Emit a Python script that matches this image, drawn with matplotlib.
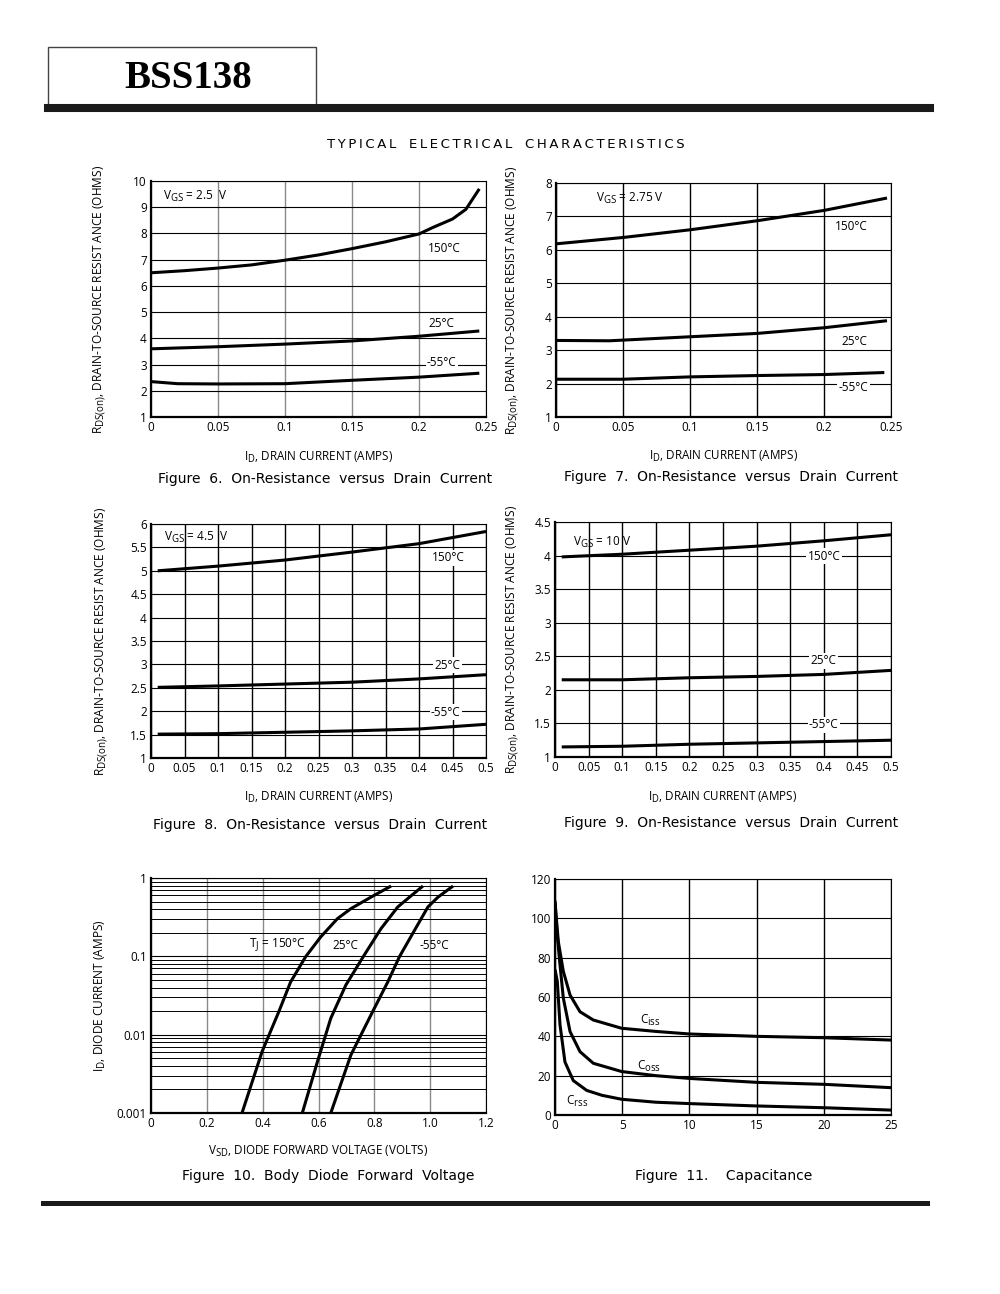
import matplotlib
matplotlib.use("Agg")
import matplotlib.pyplot as plt
import matplotlib._mathtext as mtext
from matplotlib.patches import Rectangle
from matplotlib.lines import Line2D

plt.rcParams['font.family'] = ['Open Sans', 'DejaVu Sans']
plt.rcParams['mathtext.fontset'] = 'custom'
plt.rcParams['mathtext.rm'] = 'Open Sans'
# datasheet subscripts are larger than matplotlib's default
mtext.SHRINK_FACTOR = 0.82

# ---- data ----
# Figure 6, VGS = 2.5 V
f6_x150 = [0, 0.025, 0.05, 0.075, 0.1, 0.125, 0.15, 0.175, 0.2, 0.21, 0.225, 0.235, 0.245]
f6_r150 = [6.5, 6.58, 6.68, 6.8, 6.98, 7.18, 7.42, 7.68, 7.98, 8.22, 8.55, 8.92, 9.7]
f6_x25 = [0, 0.05, 0.1, 0.15, 0.2, 0.245]
f6_r25 = [3.6, 3.68, 3.78, 3.9, 4.08, 4.28]
f6_xm55 = [0, 0.02, 0.05, 0.1, 0.15, 0.2, 0.245]
f6_rm55 = [2.35, 2.27, 2.26, 2.27, 2.4, 2.52, 2.67]

# Figure 7, VGS = 2.75 V
f7_x150 = [0, 0.05, 0.1, 0.15, 0.2, 0.247]
f7_r150 = [6.18, 6.37, 6.6, 6.87, 7.18, 7.55]
f7_x25 = [0, 0.04, 0.05, 0.1, 0.15, 0.2, 0.247]
f7_r25 = [3.29, 3.28, 3.3, 3.4, 3.5, 3.67, 3.88]
f7_xm55 = [0, 0.05, 0.1, 0.15, 0.2, 0.245]
f7_rm55 = [2.13, 2.13, 2.2, 2.24, 2.27, 2.33]

# Figure 8, VGS = 4.5 V
f8_x = [0.01, 0.1, 0.2, 0.3, 0.4, 0.5]
f8_r150 = [5.0, 5.1, 5.23, 5.4, 5.58, 5.84]
f8_r25 = [2.51, 2.54, 2.58, 2.62, 2.69, 2.78]
f8_rm55 = [1.51, 1.52, 1.55, 1.58, 1.62, 1.72]

# Figure 9, VGS = 10 V
f9_x = [0.01, 0.1, 0.2, 0.3, 0.4, 0.5]
f9_r150 = [3.98, 4.02, 4.08, 4.14, 4.22, 4.31]
f9_r25 = [2.15, 2.15, 2.18, 2.2, 2.23, 2.29]
f9_rm55 = [1.15, 1.16, 1.19, 1.21, 1.23, 1.25]

# Figure 10, body diode
f10_v150 = [0.326, 0.398, 0.458, 0.5, 0.554, 0.608, 0.668, 0.716, 0.788, 0.86]
f10_i150 = [0.001, 0.0061, 0.0197, 0.047, 0.099, 0.177, 0.303, 0.406, 0.57, 0.79]
f10_v25 = [0.542, 0.596, 0.644, 0.698, 0.764, 0.824, 0.884, 0.926, 0.974]
f10_i25 = [0.001, 0.0045, 0.0162, 0.043, 0.104, 0.226, 0.427, 0.57, 0.79]
f10_vm55 = [0.644, 0.716, 0.794, 0.848, 0.89, 0.944, 0.992, 1.028, 1.082]
f10_im55 = [0.001, 0.0055, 0.0197, 0.047, 0.099, 0.215, 0.427, 0.57, 0.79]

# Figure 11, capacitance
ciss_v = [0, 0.1, 0.25, 0.62, 1.12, 1.86, 2.85, 4.96, 7.5, 10, 15, 20, 25]
ciss_c = [109, 100, 88, 73, 61, 52.5, 48.3, 44.1, 42.5, 41.2, 40, 39.3, 38.1]
coss_v = [0, 0.1, 0.32, 0.62, 1.12, 1.86, 2.85, 4.96, 7.5, 10, 15, 20, 25]
coss_c = [108, 97, 80, 59.4, 42.4, 32.2, 26.3, 22.1, 20, 18.6, 16.6, 15.6, 13.9]
crss_v = [0, 0.17, 0.37, 0.74, 1.36, 2.36, 3.5, 4.96, 7.5, 10, 15, 20, 25]
crss_c = [74, 68, 46, 27, 17.5, 12.5, 10, 8, 6.5, 5.8, 4.6, 3.7, 2.5]

ylab_r = r'$\mathregular{R_{DS(on)}}$, DRAIN-TO-SOURCE RESIST ANCE (OHMS)'
xlab_i = r'$\mathregular{I_D}$, DRAIN CURRENT (AMPS)'

W, H = 1000, 1294
fig = plt.figure(figsize=(W / 100, H / 100), dpi=100)


def px_axes(x0, y0, x1, y1):
    return fig.add_axes([x0 / W, 1 - y1 / H, (x1 - x0) / W, (y1 - y0) / H])


def style(ax, vgrid='black'):
    ax.tick_params(length=0, labelsize=8.5, pad=3)
    for s in ['left', 'bottom']:
        ax.spines[s].set_linewidth(1.6)
    for s in ['top', 'right']:
        ax.spines[s].set_linewidth(0.8)
    ax.grid(True, axis='y', color='black', lw=0.8)
    ax.grid(True, axis='x', color=vgrid, lw=1.0)
    ax.set_axisbelow(True)


def label(ax, x, y, s):
    ax.text(x, y, s, fontsize=8.5, ha='center', va='center',
            bbox=dict(fc='white', ec='none', pad=1.0))


def curve(ax, x, y):
    ax.plot(x, y, color='black', lw=2.2, solid_capstyle='butt')


def spaced(s):
    # loose letter spacing like the datasheet headings
    return '   '.join('\u2009'.join(w) for w in s.split(' '))


def caption(x, y, s):
    fig.text(x / W, 1 - y / H, s, fontsize=10, ha='center', va='center',
             family=['Liberation Sans Narrow', 'DejaVu Sans'])


# Figure 6
ax = px_axes(151, 181, 486, 417)
style(ax, '#8a8a8a')
curve(ax, f6_x150, f6_r150)
curve(ax, f6_x25, f6_r25)
curve(ax, f6_xm55, f6_rm55)
ax.set_xlim(0, 0.25)
ax.set_ylim(1, 10)
ax.set_xticks([0, 0.05, 0.1, 0.15, 0.2, 0.25])
ax.set_xticklabels(['0', '0.05', '0.1', '0.15', '0.2', '0.25'])
ax.set_yticks(range(1, 11))
ax.text(0.009, 9.4, r'$\mathregular{V_{GS}}$ = 2.5  V', fontsize=8.5, va='center')
label(ax, 0.219, 7.43, '150°C')
label(ax, 0.217, 4.57, '25°C')
label(ax, 0.217, 3.07, '-55°C')
ax.set_ylabel(ylab_r, fontsize=8.6)
ax.set_xlabel(xlab_i, fontsize=8.4)
ax.yaxis.set_label_coords(-0.128, 0.5)
ax.xaxis.set_label_coords(0.5, -0.14)
caption(325, 479, 'Figure  6.  On-Resistance  versus  Drain  Current')

# Figure 7
ax = px_axes(556, 183, 891, 417)
style(ax)
curve(ax, f7_x150, f7_r150)
curve(ax, f7_x25, f7_r25)
curve(ax, f7_xm55, f7_rm55)
ax.set_xlim(0, 0.25)
ax.set_ylim(1, 8)
ax.set_xticks([0, 0.05, 0.1, 0.15, 0.2, 0.25])
ax.set_xticklabels(['0', '0.05', '0.1', '0.15', '0.2', '0.25'])
ax.set_yticks(range(1, 9))
ax.text(0.03, 7.55, r'$\mathregular{V_{GS}}$ = 2.75 V', fontsize=8.5, va='center')
label(ax, 0.22, 6.7, '150°C')
label(ax, 0.223, 3.27, '25°C')
label(ax, 0.222, 1.88, '-55°C')
ax.set_ylabel(ylab_r, fontsize=8.6)
ax.set_xlabel(xlab_i, fontsize=8.4)
ax.yaxis.set_label_coords(-0.105, 0.5)
ax.xaxis.set_label_coords(0.5, -0.137)
caption(731, 477, 'Figure  7.  On-Resistance  versus  Drain  Current')

# Figure 8
ax = px_axes(151, 524, 486, 758)
style(ax)
curve(ax, f8_x, f8_r150)
curve(ax, f8_x, f8_r25)
curve(ax, f8_x, f8_rm55)
ax.set_xlim(0, 0.5)
ax.set_ylim(1, 6)
xt = [0, 0.05, 0.1, 0.15, 0.2, 0.25, 0.3, 0.35, 0.4, 0.45, 0.5]
ax.set_xticks(xt)
ax.set_xticklabels(['0', '0.05', '0.1', '0.15', '0.2', '0.25', '0.3', '0.35', '0.4', '0.45', '0.5'])
ax.set_yticks([1, 1.5, 2, 2.5, 3, 3.5, 4, 4.5, 5, 5.5, 6])
ax.set_yticklabels(['1', '1.5', '2', '2.5', '3', '3.5', '4', '4.5', '5', '5.5', '6'])
ax.text(0.019, 5.72, r'$\mathregular{V_{GS}}$ = 4.5  V', fontsize=8.5, va='center')
label(ax, 0.443, 5.28, '150°C')
label(ax, 0.443, 2.98, '25°C')
label(ax, 0.44, 1.98, '-55°C')
ax.set_ylabel(ylab_r, fontsize=8.6)
ax.set_xlabel(xlab_i, fontsize=8.4)
ax.yaxis.set_label_coords(-0.122, 0.5)
ax.xaxis.set_label_coords(0.5, -0.137)
caption(320, 825, 'Figure  8.  On-Resistance  versus  Drain  Current')

# Figure 9
ax = px_axes(555, 522, 891, 757)
style(ax)
curve(ax, f9_x, f9_r150)
curve(ax, f9_x, f9_r25)
curve(ax, f9_x, f9_rm55)
ax.set_xlim(0, 0.5)
ax.set_ylim(1, 4.5)
ax.set_xticks(xt)
ax.set_xticklabels(['0', '0.05', '0.1', '0.15', '0.2', '0.25', '0.3', '0.35', '0.4', '0.45', '0.5'])
ax.set_yticks([1, 1.5, 2, 2.5, 3, 3.5, 4, 4.5])
ax.set_yticklabels(['1', '1.5', '2', '2.5', '3', '3.5', '4', '4.5'])
ax.text(0.027, 4.19, r'$\mathregular{V_{GS}}$ = 10 V', fontsize=8.5, va='center')
label(ax, 0.4, 3.99, '150°C')
label(ax, 0.4, 2.43, '25°C')
label(ax, 0.4, 1.48, '-55°C')
ax.set_ylabel(ylab_r, fontsize=8.6)
ax.set_xlabel(xlab_i, fontsize=8.4)
ax.yaxis.set_label_coords(-0.10, 0.5)
ax.xaxis.set_label_coords(0.5, -0.14)
caption(731, 823, 'Figure  9.  On-Resistance  versus  Drain  Current')

# Figure 10
ax = px_axes(151, 878, 486, 1113)
ax.set_yscale('log')
style(ax, '#8a8a8a')
ax.grid(True, which='minor', axis='y', color='black', lw=0.7)
curve(ax, f10_v150, f10_i150)
curve(ax, f10_v25, f10_i25)
curve(ax, f10_vm55, f10_im55)
ax.set_xlim(0, 1.2)
ax.set_ylim(0.001, 1)
ax.set_xticks([0, 0.2, 0.4, 0.6, 0.8, 1.0, 1.2])
ax.set_xticklabels(['0', '0.2', '0.4', '0.6', '0.8', '1.0', '1.2'])
ax.set_yticks([0.001, 0.01, 0.1, 1])
ax.set_yticklabels(['0.001', '0.01', '0.1', '1'])
ax.tick_params(which='minor', length=0)
ax.text(0.452, 0.139, r'$\mathregular{T_J}$ = 150°C', fontsize=8.5, ha='center', va='center')
ax.text(0.698, 0.139, '25°C', fontsize=8.5, ha='center', va='center')
ax.text(1.015, 0.139, '-55°C', fontsize=8.5, ha='center', va='center')
ax.set_ylabel(r'$\mathregular{I_D}$, DIODE CURRENT (AMPS)', fontsize=8.6)
ax.set_xlabel(r'$\mathregular{V_{SD}}$, DIODE FORWARD VOLTAGE (VOLTS)', fontsize=8.4)
ax.yaxis.set_label_coords(-0.128, 0.5)
ax.xaxis.set_label_coords(0.5, -0.13)
caption(328, 1176, 'Figure  10.  Body  Diode  Forward  Voltage')

# Figure 11
ax = px_axes(555, 879, 891, 1115)
style(ax)
curve(ax, ciss_v, ciss_c)
curve(ax, coss_v, coss_c)
curve(ax, crss_v, crss_c)
ax.set_xlim(0, 25)
ax.set_ylim(0, 120)
ax.set_xticks([0, 5, 10, 15, 20, 25])
ax.set_yticks([0, 20, 40, 60, 80, 100, 120])
ax.text(6.3, 48.3, r'$\mathregular{C_{iss}}$', fontsize=8.5, va='center')
ax.text(6.1, 24.9, r'$\mathregular{C_{oss}}$', fontsize=8.5, va='center')
ax.text(0.8, 6.8, r'$\mathregular{C_{rss}}$', fontsize=8.5, va='center')
caption(724, 1176, 'Figure  11.    Capacitance')

# page header and rules
fig.add_artist(Rectangle((48 / W, 1 - 106 / H), 268 / W, 59 / H, transform=fig.transFigure,
                         fill=False, ec='#444444', lw=1.0))
fig.add_artist(Line2D([48 / W, 930 / W], [1 - 108 / H, 1 - 108 / H], color='#1a1a1a', lw=5.8))
fig.add_artist(Line2D([43 / W, 927 / W], [1 - 1203 / H, 1 - 1203 / H], color='#1a1a1a', lw=3.6))
fig.text(188 / W, 1 - 78 / H, 'BSS138', fontsize=28, fontweight='bold', ha='center', va='center',
         family=['Liberation Serif', 'DejaVu Serif'])
fig.text(506 / W, 1 - 144 / H, spaced('TYPICAL ELECTRICAL CHARACTERISTICS'),
         fontsize=9.5, ha='center', va='center', family=['DejaVu Sans'])

fig.savefig('out.png', dpi=100)
